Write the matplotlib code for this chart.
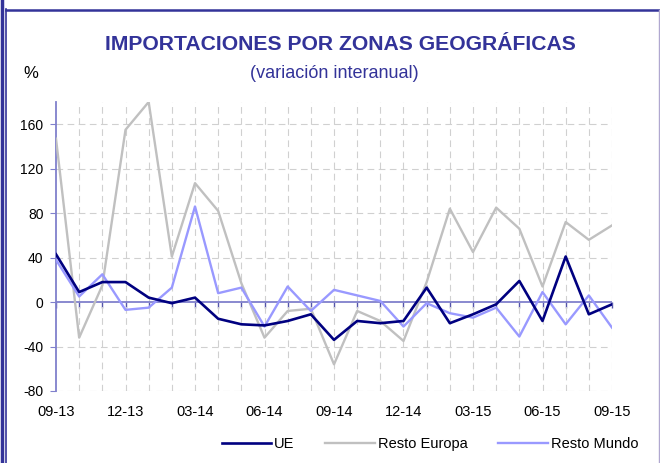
import matplotlib.pyplot as plt
from matplotlib.lines import Line2D

plt.rcParams['font.family'] = ['Liberation Sans', 'DejaVu Sans']
plt.rcParams['axes.unicode_minus'] = False

# Monthly data, 09-13 .. 09-15
months = ['09-13', '10-13', '11-13', '12-13', '01-14', '02-14', '03-14', '04-14',
          '05-14', '06-14', '07-14', '08-14', '09-14', '10-14', '11-14', '12-14',
          '01-15', '02-15', '03-15', '04-15', '05-15', '06-15', '07-15', '08-15', '09-15']
ue = [43, 9, 18, 18, 4, -1, 4, -15, -20, -21, -17, -11, -34,
      -17, -19, -17, 13, -19, -11, -2, 19, -17, 41, -11, -2]
resto_europa = [147, -32, 15, 155, 180, 41, 107, 82, 17, -32, -8, -6, -56,
                -8, -17, -35, 18, 84, 45, 85, 66, 14, 72, 56, 69]
resto_mundo = [38, 5, 25, -7, -5, 13, 86, 8, 13, -22, 14, -8, 11,
               6, 1, -22, -1, -10, -14, -5, -31, 9, -20, 6, -23]
y_ticks = [-80, -40, 0, 40, 80, 120, 160]

title_col = '#333399'
axis_col = '#8080cc'

fig = plt.figure(figsize=(6.6, 4.63), dpi=100)
W, H = 660, 463
ax = fig.add_axes([56 / W, 1 - 391 / H, (612 - 56) / W, (391 - 102) / H])

x = list(range(len(months)))
ax.plot(x, resto_europa, color='#c0c0c0', lw=1.7, label='Resto Europa', zorder=3)
ax.plot(x, resto_mundo, color='#9999ff', lw=1.7, label='Resto Mundo', zorder=4)
ax.plot(x, ue, color='#000080', lw=1.9, label='UE', zorder=5)

ax.set_xlim(0, len(months) - 1)
ax.set_ylim(-80, 180)

# grid
ax.set_yticks(y_ticks)
ax.set_xticks(x[::3])
ax.set_xticklabels(months[::3], fontsize=10.5)
for v in y_ticks:
    if v != 0:
        ax.axhline(v, color='#d0d0d0', lw=0.8, ls=(0, (6, 4)), zorder=1)
for xi in x[1:]:
    ax.axvline(xi, color='#d0d0d0', lw=0.8, ls=(0, (6, 4)), zorder=1)
ax.axhline(0, color=axis_col, lw=1.3, zorder=2)

ax.tick_params(axis='x', which='both', length=0, pad=10)
ax.tick_params(axis='y', length=4, color=axis_col, pad=5, labelsize=10)
for s in ['top', 'right', 'bottom']:
    ax.spines[s].set_visible(False)
ax.spines['left'].set_color(axis_col)
ax.spines['left'].set_linewidth(1.3)

# month ticks on the zero line
sec = ax.secondary_xaxis(80 / 260)
sec.set_xticks(x)
sec.set_xticklabels([])
sec.tick_params(length=4, color='#5555aa', width=1)
sec.spines['bottom'].set_visible(False)

# titles
fig.text(340 / W, 1 - 45 / H, 'IMPORTACIONES POR ZONAS GEOGRÁFICAS',
         ha='center', va='center', fontsize=15.2, fontweight='bold', color=title_col)
fig.text(334 / W, 1 - 73 / H, '(variación interanual)',
         ha='center', va='center', fontsize=13, color=title_col)
fig.text(31 / W, 1 - 73 / H, '%', ha='center', va='center', fontsize=12, color='black')

# legend
handles, labels = ax.get_legend_handles_labels()
order = [2, 0, 1]
fig.legend([handles[i] for i in order], [labels[i] for i in order],
           loc='center', bbox_to_anchor=(430 / W, 1 - 444 / H), ncol=3,
           frameon=False, fontsize=10.5, handlelength=3.4, handletextpad=0.2,
           columnspacing=2.1)

# frame
fig.add_artist(Line2D([1.5 / W, 1.5 / W], [0, 1], color=title_col, lw=2.5))
fig.add_artist(Line2D([6.5 / W, 6.5 / W], [0, 1 - 9 / H], color=title_col, lw=1.2))
fig.add_artist(Line2D([6 / W, 1], [1 - 10 / H, 1 - 10 / H], color=title_col, lw=1.8))
fig.add_artist(Line2D([659 / W, 659 / W], [0, 1 - 10 / H], color='#b0a8d0', lw=1.0))

fig.savefig('out.png', dpi=100)
